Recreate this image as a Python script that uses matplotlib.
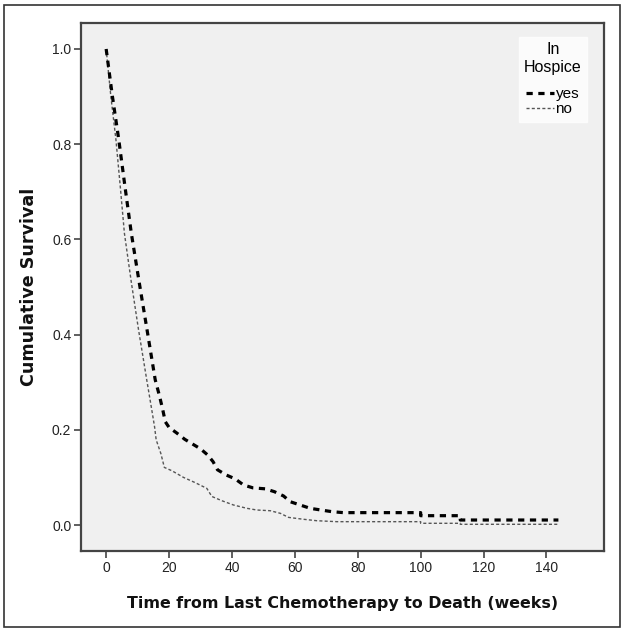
import matplotlib
matplotlib.use("Agg")
import matplotlib.pyplot as plt
from matplotlib.patches import Rectangle

plt.rcParams['font.family'] = ['Liberation Sans', 'DejaVu Sans']
plt.rcParams['lines.scale_dashes'] = False

# Kaplan-Meier curves (weeks, cumulative survival)
yes_t = [0, 2, 4, 6, 8, 10.5, 13, 15.6, 17, 18, 18.8, 20, 22.5, 25, 27.5, 30, 32.3, 34,
         35.4, 38.2, 41, 43.7, 46.7, 50.6, 53.5, 56.4, 58.5, 61.7, 64.9, 68.3, 71.8, 75.4,
         100, 100, 112.6, 112.6, 143.8]
yes_s = [1.0, 0.90, 0.81, 0.71, 0.613, 0.51, 0.41, 0.305, 0.27, 0.242, 0.217, 0.205, 0.193,
         0.18, 0.17, 0.16, 0.147, 0.133, 0.116, 0.105, 0.097, 0.084, 0.078, 0.076, 0.07,
         0.061, 0.049, 0.042, 0.035, 0.0315, 0.028, 0.026, 0.026, 0.0196, 0.0196, 0.0105, 0.0105]

no_t = [0, 1.5, 3.1, 4.5, 5.8, 8, 10.3, 12.9, 14.5, 15.4, 15.9, 17.4, 18.5, 20.9, 24.6, 28.3,
        32, 33.6, 36.8, 40.5, 44.8, 47.9, 52.2, 55.4, 58, 62.8, 67, 73.4, 100, 100, 112.6,
        112.6, 143.8]
no_s = [1.0, 0.90, 0.81, 0.71, 0.613, 0.51, 0.41, 0.305, 0.242, 0.206, 0.179, 0.15, 0.121,
        0.114, 0.10, 0.089, 0.077, 0.06, 0.051, 0.042, 0.035, 0.0315, 0.030, 0.0245, 0.016,
        0.012, 0.009, 0.007, 0.007, 0.0036, 0.0036, 0.0015, 0.0015]

x_ticks = [0, 20, 40, 60, 80, 100, 120, 140]
y_ticks = [0.0, 0.2, 0.4, 0.6, 0.8, 1.0]

fig = plt.figure(figsize=(6.29, 6.32), dpi=100)
fig.patch.set_facecolor('white')
fig.patches.append(Rectangle((4/629, 1-627/632), 616/629, 622/632, transform=fig.transFigure,
                             fill=False, edgecolor='#333333', linewidth=1.2))

ax = fig.add_axes([81/629, 1-551/632, 523/629, 528/632])
ax.set_facecolor('#f0f0f0')

ax.plot(no_t, no_s, color='#555555', linewidth=1.0, linestyle=(0, (2.2, 1.6)), label='no', zorder=2)
ax.plot(yes_t, yes_s, color='black', linewidth=2.3, linestyle=(0, (4.5, 4.0)), label='yes', zorder=3)

ax.set_xlim(-8, 158.3)
ax.set_ylim(-0.0546, 1.0546)
ax.set_xticks(x_ticks)
ax.set_xticklabels([str(v) for v in x_ticks])
ax.set_yticks(y_ticks)
ax.set_yticklabels(['%.1f' % v for v in y_ticks])

for s in ax.spines.values():
    s.set_color('#444444')
    s.set_linewidth(1.6)
ax.tick_params(axis='both', length=5, width=1.2, color='#444444', labelsize=10, labelcolor='#222222', pad=2)

ax.set_xlabel('Time from Last Chemotherapy to Death (weeks)', fontsize=11.4, fontweight='bold',
              family='DejaVu Sans', color='#111111', labelpad=15)
ax.set_ylabel('Cumulative Survival', fontsize=12.6, fontweight='bold', family='DejaVu Sans',
              color='#111111', labelpad=10)

handles, labels = ax.get_legend_handles_labels()
leg = ax.legend(handles[::-1], labels[::-1], title='In\nHospice', loc='upper right',
                bbox_to_anchor=((587-81)/523, 1-(37-23)/528), borderaxespad=0,
                fontsize=11, title_fontsize=11.5, handlelength=1.8, handletextpad=0.1,
                labelspacing=0.08, frameon=True, fancybox=False, borderpad=0.35)
leg.get_frame().set_facecolor('white')
leg.get_frame().set_edgecolor('white')
leg.get_title().set_multialignment('center')
leg._legend_box.sep = 9

fig.savefig('out.png', dpi=100, facecolor='white')
